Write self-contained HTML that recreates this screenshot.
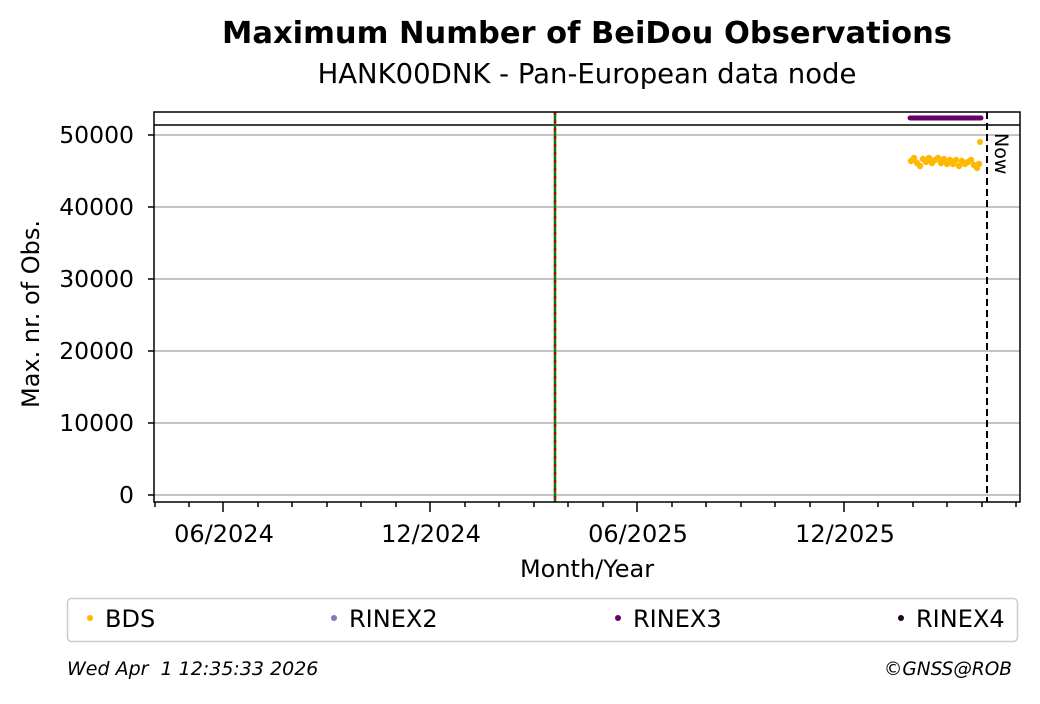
<!DOCTYPE html>
<html><head><meta charset="utf-8"><style>
body{margin:0;background:#fff;}
svg text{font-family:"DejaVu Sans","Liberation Sans",sans-serif;}
</style></head><body>
<svg width="1040" height="699" xmlns="http://www.w3.org/2000/svg">
<text x="587" y="43" text-anchor="middle" font-size="30.5" font-weight="bold">Maximum Number of BeiDou Observations</text>
<text x="587" y="83" text-anchor="middle" font-size="27.5">HANK00DNK - Pan-European data node</text>
<g stroke="#b0b0b0" stroke-width="1.5">
<line x1="154" x2="1020" y1="135" y2="135"/><line x1="154" x2="1020" y1="207" y2="207"/>
<line x1="154" x2="1020" y1="279" y2="279"/><line x1="154" x2="1020" y1="351" y2="351"/>
<line x1="154" x2="1020" y1="423" y2="423"/><line x1="154" x2="1020" y1="495" y2="495"/>
</g>
<line x1="154" x2="1020" y1="125" y2="125" stroke="#000" stroke-width="1.5"/>
<line x1="555" x2="555" y1="112" y2="502" stroke="#008000" stroke-width="2.5"/>
<line x1="555" x2="555" y1="112" y2="502" stroke="#d00000" stroke-width="2.5" stroke-dasharray="3,5"/>
<line x1="987" x2="987" y1="112" y2="502" stroke="#000" stroke-width="2" stroke-dasharray="7,4"/>
<text transform="translate(995,133) rotate(90)" font-size="19">Now</text>
<line x1="910" x2="981" y1="118" y2="118" stroke="#6a006a" stroke-width="5" stroke-linecap="round"/>
<g fill="#ffb800">
<circle cx="980" cy="142" r="3"/>
<circle cx="911" cy="161" r="3.2"/><circle cx="914" cy="158" r="3.2"/><circle cx="917" cy="163" r="3.2"/><circle cx="920" cy="166" r="3.2"/><circle cx="923" cy="159" r="3.2"/><circle cx="926" cy="162" r="3.2"/><circle cx="929" cy="158" r="3.2"/><circle cx="932" cy="163" r="3.2"/><circle cx="935" cy="160" r="3.2"/><circle cx="938" cy="158" r="3.2"/><circle cx="941" cy="163" r="3.2"/><circle cx="944" cy="159" r="3.2"/><circle cx="947" cy="164" r="3.2"/><circle cx="950" cy="160" r="3.2"/><circle cx="953" cy="164" r="3.2"/><circle cx="956" cy="160" r="3.2"/><circle cx="959" cy="166" r="3.2"/><circle cx="962" cy="161" r="3.2"/><circle cx="965" cy="164" r="3.2"/><circle cx="968" cy="162" r="3.2"/><circle cx="971" cy="160" r="3.2"/><circle cx="974" cy="165" r="3.2"/><circle cx="977" cy="168" r="3.2"/><circle cx="979" cy="164" r="3.2"/>
</g>
<rect x="154" y="112" width="866" height="390" fill="none" stroke="#000" stroke-width="1.5"/>
<g stroke="#000" stroke-width="1.5">
<line x1="148" x2="154" y1="135" y2="135"/><line x1="148" x2="154" y1="207" y2="207"/><line x1="148" x2="154" y1="279" y2="279"/><line x1="148" x2="154" y1="351" y2="351"/><line x1="148" x2="154" y1="423" y2="423"/><line x1="148" x2="154" y1="495" y2="495"/>
<line x1="223" x2="223" y1="502" y2="512"/><line x1="430" x2="430" y1="502" y2="512"/><line x1="637" x2="637" y1="502" y2="512"/><line x1="844" x2="844" y1="502" y2="512"/>
<line x1="155" x2="155" y1="502" y2="507"/><line x1="189" x2="189" y1="502" y2="507"/><line x1="258" x2="258" y1="502" y2="507"/><line x1="292" x2="292" y1="502" y2="507"/><line x1="327" x2="327" y1="502" y2="507"/><line x1="361" x2="361" y1="502" y2="507"/><line x1="396" x2="396" y1="502" y2="507"/><line x1="465" x2="465" y1="502" y2="507"/><line x1="499" x2="499" y1="502" y2="507"/><line x1="534" x2="534" y1="502" y2="507"/><line x1="568" x2="568" y1="502" y2="507"/><line x1="603" x2="603" y1="502" y2="507"/><line x1="672" x2="672" y1="502" y2="507"/><line x1="706" x2="706" y1="502" y2="507"/><line x1="741" x2="741" y1="502" y2="507"/><line x1="775" x2="775" y1="502" y2="507"/><line x1="810" x2="810" y1="502" y2="507"/><line x1="878" x2="878" y1="502" y2="507"/><line x1="913" x2="913" y1="502" y2="507"/><line x1="947" x2="947" y1="502" y2="507"/><line x1="982" x2="982" y1="502" y2="507"/><line x1="1016" x2="1016" y1="502" y2="507"/>
</g>
<g font-size="23.5" text-anchor="end">
<text x="134" y="143">50000</text><text x="134" y="215">40000</text><text x="134" y="287">30000</text><text x="134" y="359">20000</text><text x="134" y="431">10000</text><text x="134" y="503">0</text>
</g>
<g font-size="24" text-anchor="middle">
<text x="224" y="542">06/2024</text><text x="431" y="542">12/2024</text><text x="638" y="542">06/2025</text><text x="845" y="542">12/2025</text>
<text x="587" y="577">Month/Year</text>
</g>
<text transform="translate(39,314) rotate(-90)" font-size="24" text-anchor="middle">Max. nr. of Obs.</text>
<rect x="67.5" y="598.5" width="950" height="43" rx="4" fill="none" stroke="#ccc" stroke-width="1.5"/>
<g font-size="24">
<circle cx="90" cy="618" r="3" fill="#ffb800"/><text x="105" y="627">BDS</text>
<circle cx="334" cy="618" r="3" fill="#7b7bbf"/><text x="349" y="627">RINEX2</text>
<circle cx="618" cy="618" r="3" fill="#6a006a"/><text x="633" y="627">RINEX3</text>
<circle cx="901" cy="618" r="3" fill="#200020"/><text x="916" y="627">RINEX4</text>
</g>
<text x="67" y="675" font-size="19" font-style="italic" xml:space="preserve">Wed Apr&#160; 1 12:35:33 2026</text>
<text x="1012" y="675" font-size="18.5" font-style="italic" text-anchor="end">©GNSS@ROB</text>
</svg>
</body></html>
